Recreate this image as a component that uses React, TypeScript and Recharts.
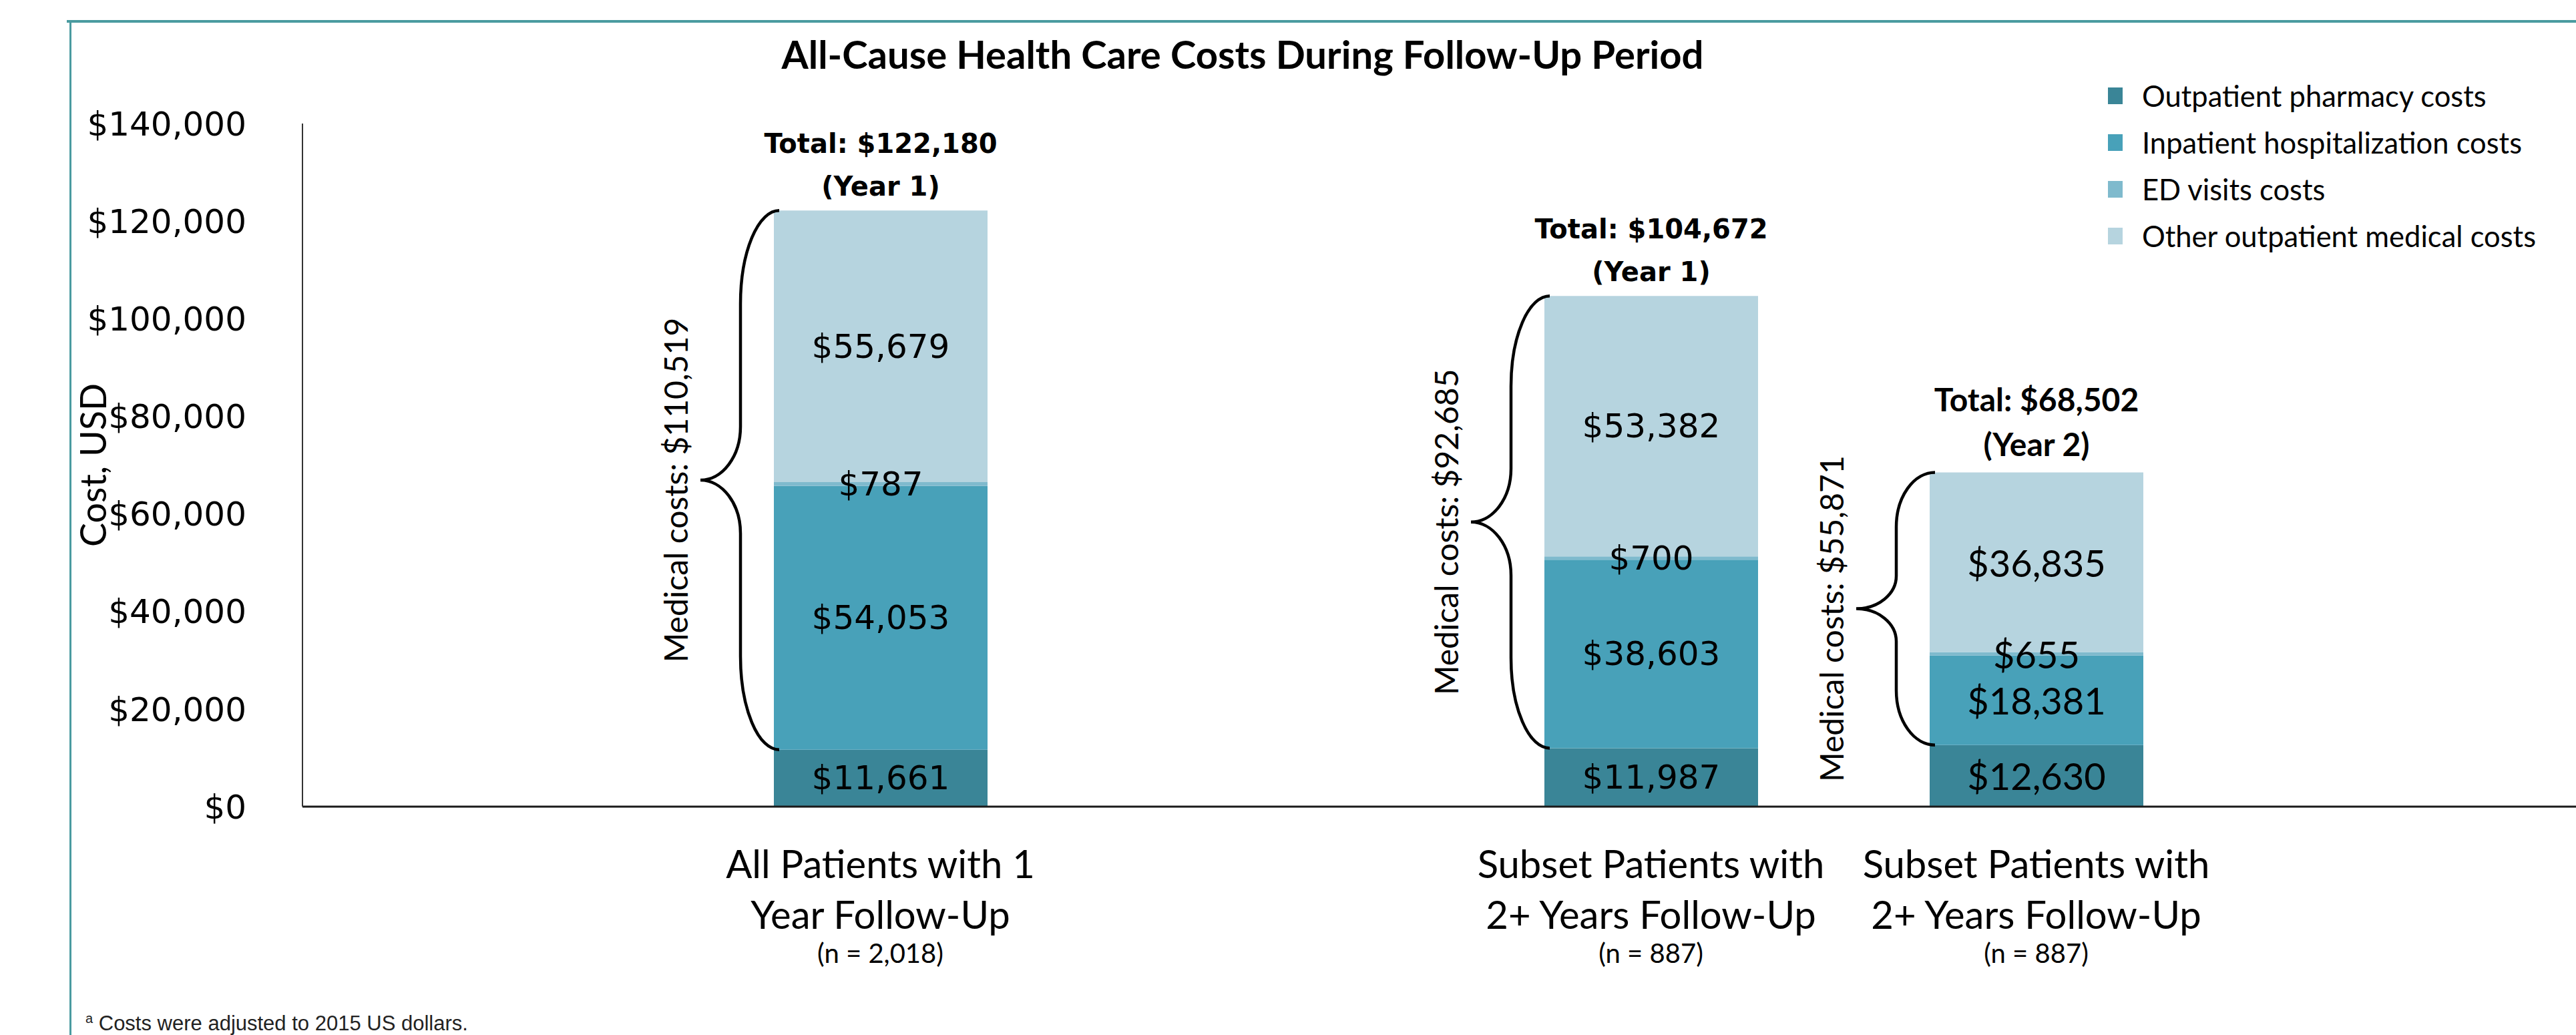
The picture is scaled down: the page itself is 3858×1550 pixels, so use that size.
import { BarChart, Bar, XAxis, YAxis, Legend, Rectangle } from "recharts";

// columns: blank slots keep the uneven spacing of the original slide
const categories = ["gap-a", "all-1y", "gap-b", "subset-y1", "subset-y2"];
const labelLine1 = ["", "All Patients with 1", "", "Subset Patients with", "Subset Patients with"];
const labelLine2 = ["", "Year Follow-Up", "", "2+ Years Follow-Up", "2+ Years Follow-Up"];
const sampleSizes = ["", "(n = 2,018)", "", "(n = 887)", "(n = 887)"];

const pharmacy = [null, 11661, null, 11987, 12630];
const inpatient = [null, 54053, null, 38603, 18381];
const edVisits = [null, 787, null, 700, 655];
const otherOutpatient = [null, 55679, null, 53382, 36835];

const totals = [null, 122180, null, 104672, 68502];
const totalYears = ["", "(Year 1)", "", "(Year 1)", "(Year 2)"];
const medicalTotals = [null, 110519, null, 92685, 55871];

const seriesNames = [
  "Outpatient pharmacy costs",
  "Inpatient hospitalization costs",
  "ED visits costs",
  "Other outpatient medical costs",
];
const yTicks = [0, 20000, 40000, 60000, 80000, 100000, 120000, 140000];

const COLORS = ["#3a8597", "#48a1b9", "#7fbacd", "#b6d4df"];
const TEAL = "#4a9ba0";
const VERDANA = "'DejaVu Sans', Verdana, sans-serif";
const CALIBRI = "Lato, Carlito, Calibri, sans-serif";
const ARIAL = "'Liberation Sans', Arial, sans-serif";

const money = (v: number) => "$" + v.toLocaleString("en-US");

function CategoryTick(props: any) {
  const { x, y, payload } = props;
  const i = props.index ?? payload?.index;
  if (!labelLine1[i]) return null;
  const common = { x, textAnchor: "middle" as const, dominantBaseline: "central" as const, fill: "#000", fontFamily: CALIBRI };
  return (
    <g>
      <text {...common} y={y + 84} fontSize={58}>{labelLine1[i]}</text>
      <text {...common} y={y + 160} fontSize={58}>{labelLine2[i]}</text>
      <text {...common} y={y + 219} fontSize={40}>{sampleSizes[i]}</text>
    </g>
  );
}

function YAxisLabel(props: any) {
  const vb = props.viewBox ?? { x: 0, y: 185, width: 453, height: 1023 };
  const cx = vb.x + 138;
  const cy = vb.y + vb.height / 2;
  return (
    <text x={cx} y={cy} transform={`rotate(-90 ${cx} ${cy})`} textAnchor="middle" dominantBaseline="central" fontFamily={CALIBRI} fontSize={54} fill="#000">
      Cost, USD
    </text>
  );
}

// top segment draws its rect plus all the column's labels, so nothing covers them
function TopSegment(props: any) {
  const x = Number(props.x);
  const y = Number(props.y);
  const width = Number(props.width);
  const height = Number(props.height);
  const i = categories.indexOf(props.payload?.key);
  const top = otherOutpatient[i];
  const rect = <Rectangle x={x} y={y} width={width} height={height} fill={props.fill} />;
  if (i < 0 || top == null || !height) return rect;

  const k = height / top;
  const segs = [pharmacy[i] ?? 0, inpatient[i] ?? 0, edVisits[i] ?? 0, top];
  const base = y + height + (segs[0] + segs[1] + segs[2]) * k;
  const cx = x + width / 2;
  const lato = i === 4;

  let cum = 0;
  const segLabels = segs.map((v, s) => {
    const cy = base - (cum + v / 2) * k;
    cum += v;
    return (
      <text key={s} x={cx} y={cy} textAnchor="middle" dominantBaseline="central" fill="#000"
        fontFamily={lato ? CALIBRI : VERDANA} fontSize={lato ? 56 : 50}>
        {money(v)}
      </text>
    );
  });

  // curly brace around the medical part (everything above pharmacy)
  const bTop = y;
  const bBottom = base - segs[0] * k;
  const mid = (bTop + bBottom) / 2;
  const h = bBottom - bTop;
  const endX = x + 8;
  const stemX = x - 50;
  const tipX = x - 110;
  const ryEnd = Math.min(140, h * 0.2);
  const ryMid = Math.min(80, h * 0.12);
  const rxEnd = endX - stemX;
  const rxMid = stemX - tipX;
  const d = [
    `M ${endX} ${bTop}`,
    `A ${rxEnd} ${ryEnd} 0 0 0 ${stemX} ${bTop + ryEnd}`,
    `L ${stemX} ${mid - ryMid}`,
    `A ${rxMid} ${ryMid} 0 0 1 ${tipX} ${mid}`,
    `A ${rxMid} ${ryMid} 0 0 1 ${stemX} ${mid + ryMid}`,
    `L ${stemX} ${bBottom - ryEnd}`,
    `A ${rxEnd} ${ryEnd} 0 0 0 ${endX} ${bBottom}`,
  ].join(" ");
  const lx = tipX - 37;
  const ly = mid + 15;

  return (
    <g>
      {rect}
      {segLabels}
      <path d={d} fill="none" stroke="#000" strokeWidth={4.5} />
      <text x={lx} y={ly} transform={`rotate(-90 ${lx} ${ly})`} textAnchor="middle" dominantBaseline="central"
        fontFamily={CALIBRI} fontSize={48} fill="#000">
        {"Medical costs: " + money(medicalTotals[i] as number)}
      </text>
      <text x={cx} y={y - (lato ? 110 : 100)} textAnchor="middle" dominantBaseline="central" fontWeight="bold"
        fontFamily={lato ? CALIBRI : VERDANA} fontSize={lato ? 48 : 40} fill="#000">
        {"Total: " + money(totals[i] as number)}
      </text>
      <text x={cx} y={y - (lato ? 43 : 36)} textAnchor="middle" dominantBaseline="central" fontWeight="bold"
        fontFamily={lato ? CALIBRI : VERDANA} fontSize={lato ? 48 : 40} fill="#000">
        {totalYears[i]}
      </text>
    </g>
  );
}

function LegendContent() {
  return (
    <div style={{ fontFamily: CALIBRI, fontSize: 43.5, color: "#000" }}>
      {seriesNames.map((name, s) => (
        <div key={name} style={{ display: "flex", alignItems: "center", height: 70 }}>
          <span style={{ display: "inline-block", width: 22, height: 25, background: COLORS[s], marginRight: 29 }} />
          <span style={{ whiteSpace: "nowrap" }}>{name}</span>
        </div>
      ))}
    </div>
  );
}

export default function App() {
  const data = categories.map((key, i) => ({
    key,
    pharmacy: pharmacy[i],
    inpatient: inpatient[i],
    ed: edVisits[i],
    other: otherOutpatient[i],
  }));

  return (
    <div style={{ position: "relative", width: 3858, height: 1550, background: "#fff", overflow: "hidden" }}>
      <style>{"body{margin:0}"}</style>
      <div style={{ position: "absolute", left: 0, top: 0 }}>
        <BarChart width={3858} height={1550} data={data} margin={{ top: 185, right: 0, bottom: 42, left: 0 }}>
          <XAxis
            dataKey="key"
            height={300}
            interval={0}
            tick={<CategoryTick />}
            tickLine={false}
            tickSize={0}
            tickMargin={0}
            axisLine={{ stroke: "#1a1a1a", strokeWidth: 3 }}
            padding={{ left: 0, right: 520 }}
          />
          <YAxis
            domain={[0, 140000]}
            ticks={yTicks}
            width={453}
            tickFormatter={money}
            tick={{ fontFamily: VERDANA, fontSize: 50, fill: "#000" }}
            tickLine={false}
            tickSize={0}
            tickMargin={84}
            axisLine={{ stroke: "#333", strokeWidth: 2 }}
            label={<YAxisLabel />}
          />
          <Legend
            layout="vertical"
            align="center"
            verticalAlign="middle"
            wrapperStyle={{ left: 3157, top: 108, width: 700 }}
            content={<LegendContent />}
          />
          <Bar dataKey="pharmacy" name={seriesNames[0]} stackId="cost" fill={COLORS[0]} barSize={320} isAnimationActive={false} />
          <Bar dataKey="inpatient" name={seriesNames[1]} stackId="cost" fill={COLORS[1]} barSize={320} isAnimationActive={false} />
          <Bar dataKey="ed" name={seriesNames[2]} stackId="cost" fill={COLORS[2]} barSize={320} isAnimationActive={false} />
          <Bar dataKey="other" name={seriesNames[3]} stackId="cost" fill={COLORS[3]} barSize={320} isAnimationActive={false}
            shape={(p: any) => <TopSegment {...p} />} />
        </BarChart>
      </div>

      <div style={{ position: "absolute", left: 100, top: 30, right: 0, height: 4, background: TEAL }} />
      <div style={{ position: "absolute", left: 104, top: 32, width: 3, bottom: 0, background: TEAL }} />

      <div style={{ position: "absolute", left: 861, top: 47, width: 2000, textAlign: "center", fontFamily: CALIBRI, fontWeight: "bold", fontSize: 58, lineHeight: "68px", color: "#000" }}>
        All-Cause Health Care Costs During Follow-Up Period
      </div>

      <div style={{ position: "absolute", left: 128, top: 1507, fontFamily: ARIAL, fontSize: 31, lineHeight: "36px", color: "#222", whiteSpace: "nowrap" }}>
        <sup style={{ fontSize: 20 }}>a</sup> Costs were adjusted to 2015 US dollars.
      </div>
    </div>
  );
}
